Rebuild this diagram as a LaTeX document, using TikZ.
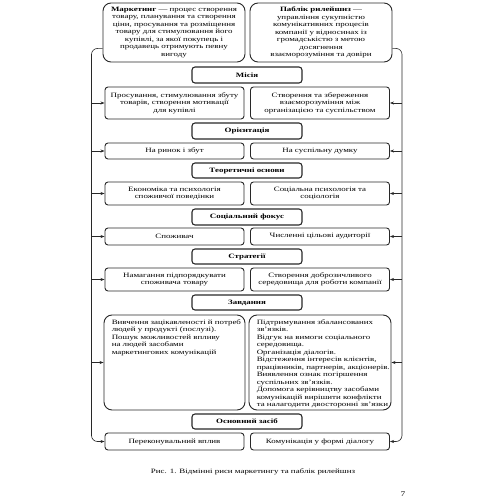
\documentclass[tikz,border=0pt]{standalone}
\usepackage{fontspec}
\setmainfont[FakeStretch=1.35]{Liberation Serif}
\usepackage{tikz}
\usetikzlibrary{calc,positioning,arrows.meta}
\definecolor{lineg}{RGB}{40,40,40}
\newcommand{\boxfont}{\fontsize{6.6}{7.5}\selectfont}

\tikzset{
  defbox/.style={draw=lineg, line width=0.9pt, rounded corners=8pt, minimum width=142pt, minimum height=59pt, text width=136pt, align=center, inner sep=1pt},
  headbox/.style={draw=lineg, line width=1.1pt, rounded corners=3pt, minimum width=110pt, inner sep=1pt, font=\boxfont\bfseries},
  rowbox/.style={draw=lineg, line width=0.9pt, rounded corners=3pt, text width=137pt, align=center, inner sep=1pt},
  taskbox/.style={draw=lineg, line width=0.9pt, rounded corners=8pt, minimum height=95pt, inner sep=0pt},
  arr/.style={-{Stealth[length=4pt,width=3pt]}, line width=0.6pt, lineg},
  bar/.style={line width=0.6pt, lineg, rounded corners=6pt},
}

\begin{document}
\begin{tikzpicture}[x=1pt, y=-1pt, font=\boxfont]
  \useasboundingbox (0,0) rectangle (500,500);

  % Definitions
  \node[defbox] (mk) at (174,32.5) {\textbf{Маркетинг} — процес створення\\товару, планування та створення\\ціни, просування та розміщення\\товару для стимулювання його\\купівлі, за якої покупець і\\продавець отримують певну\\вигоду};
  \node[defbox] (pr) at (321,32.5) {\textbf{Паблік рилейшнз} —\\управління сукупністю\\комунікативних процесів\\компанії у відносинах із\\громадськістю з метою\\досягнення\\взаєморозуміння та довіри};

  % Headers
  \node[headbox, minimum height=16pt] (h1) at (247,75) {Місія};
  \node[headbox, minimum height=16pt] (h2) at (247,131) {Орієнтація};
  \node[headbox, minimum height=15pt] (h3) at (247,170.5) {Теоретичні основи};
  \node[headbox, minimum height=16pt] (h4) at (247,217) {Соціальний фокус};
  \node[headbox, minimum height=15pt] (h5) at (247,256.5) {Стратегії};
  \node[headbox, minimum height=15pt] (h6) at (247,302.5) {Завдання};
  \node[headbox, minimum height=15pt] (h7) at (247,421.5) {Основний засіб};

  % Marketing side
  \node[rowbox, minimum height=32pt] (r1l) at (174.5,103) {Просування, стимулювання збуту\\товарів, створення мотивації\\для купівлі};
  \node[rowbox, minimum height=16pt] (r2l) at (174.5,151) {На ринок і збут};
  \node[rowbox, minimum height=23pt] (r3l) at (174.5,193.5) {Економіка та психологія\\споживчої поведінки};
  \node[rowbox, minimum height=17pt] (r4l) at (174.5,236.5) {Споживач};
  \node[rowbox, minimum height=23pt] (r5l) at (174.5,279.5) {Намагання підпорядкувати\\споживача товару};
  \node[taskbox, minimum width=141pt] (r6l) at (174.5,362.5) {};
  \node[rowbox, minimum height=17pt] (r7l) at (174.5,441.5) {Переконувальний вплив};

  % PR side
  \node[rowbox, minimum height=32pt] (r1r) at (320,103) {Створення та збереження\\взаєморозуміння між\\організацією та суспільством};
  \node[rowbox, minimum height=16pt] (r2r) at (320,151) {На суспільну думку};
  \node[rowbox, minimum height=23pt] (r3r) at (320,193.5) {Соціальна психологія та\\соціологія};
  \node[rowbox, minimum height=17pt] (r4r) at (320,236.5) {Численні цільові аудиторії};
  \node[rowbox, minimum height=23pt] (r5r) at (320,279.5) {Створення доброзичливого\\середовища для роботи компанії};
  \node[taskbox, minimum width=142pt] (r6r) at (320,362.5) {};
  \node[rowbox, minimum height=17pt] (r7r) at (320,441.5) {Комунікація у формі діалогу};

  % Tasks text
  \node[anchor=north west, align=left, inner sep=0pt] (t6l) at ($(r6l.north west)+(8,5)$) {Вивчення зацікавленості й потреб\\людей у продукті (послузі).\\Пошук можливостей впливу\\на людей засобами\\маркетингових комунікацій};
  \node[anchor=north west, align=left, inner sep=0pt] (t6r) at ($(r6r.north west)+(8,5)$) {Підтримування збалансованих\\зв’язків.\\Відгук на вимоги соціального\\середовища.\\Організація діалогів.\\Відстеження інтересів клієнтів,\\працівників, партнерів, акціонерів.\\Виявлення ознак погіршення\\суспільних зв’язків.\\Допомога керівництву засобами\\комунікацій вирішити конфлікти\\та налагодити двосторонні зв’язки};

  % Side bars
  \coordinate (lbar) at (91.5,0);
  \coordinate (rbar) at (402,0);
  \draw[bar, arr] ($(mk.south west)+(0,-14)$) -| (lbar |- r7l.west) -- (r7l.west);
  \draw[bar, arr] ($(pr.south east)+(0,-14)$) -| (rbar |- r7r.east) -- (r7r.east);
  \foreach \r in {r1,r2,r3,r4,r5,r6} {
    \draw[arr] (lbar |- \r l.west) -- (\r l.west);
    \draw[arr] (rbar |- \r r.east) -- (\r r.east);
  }

  % Caption
  \node[font=\fontsize{6.6}{8}\selectfont] (cap) at (253,472) {Рис. 1. Відмінні риси маркетингу та паблік рилейшнз};
  \node[font=\fontsize{7}{8}\selectfont] (pg) at (403,494) {7};
\end{tikzpicture}
\end{document}
